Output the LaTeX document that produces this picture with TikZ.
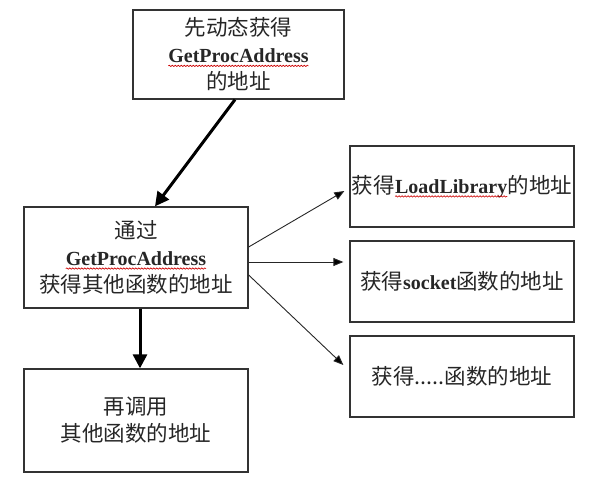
\documentclass[tikz,border=0pt]{standalone}
\usepackage{fontspec}
\newfontfamily\cjk{Noto Sans CJK SC}
\newfontfamily\lat{Liberation Serif}
\usetikzlibrary{arrows.meta,calc,decorations.pathmorphing}
\newcommand\latw[1]{{\lat\bfseries\fontsize{20}{27}\selectfont\tikz[baseline=(w.base)]{\node[draw=none,inner sep=0pt,outer sep=0pt,minimum width=0pt,minimum height=0pt,text=black!85](w){#1};\draw[red!80!black,line width=0.6pt,decorate,decoration={snake,amplitude=0.7pt,segment length=3pt}]([yshift=-3pt]w.base west)--([yshift=-3pt]w.base east);}}}
\begin{document}
\begin{tikzpicture}[x=1pt,y=-1pt,
  box/.style={draw=black!80,line width=1.3pt,inner sep=0pt,align=center,text=black!85,
    font=\cjk\fontsize{21.5}{27}\selectfont},
  thick arrow/.style={line width=3pt,draw=black,-{Triangle[length=14pt,width=14pt]}},
  thin arrow/.style={line width=0.9pt,draw=black!85,-{Triangle[length=10pt,width=8pt]}}]
\useasboundingbox (0,0) rectangle (592,478);
\node[box,minimum width=211pt,minimum height=89pt] (top) at (238.5,54.5)
  {先动态获得\\\latw{GetProcAddress}\\的地址};
\node[box,minimum width=224pt,minimum height=101pt] (mid) at (136,257.5)
  {通过\\\latw{GetProcAddress}\\获得其他函数的地址};
\node[box,minimum width=224pt,minimum height=103pt] (bot) at (136,420.5)
  {再调用\\其他函数的地址};
\node[box,minimum width=224pt,minimum height=81pt] (r1) at (462,186.5)
  {获得\latw{LoadLibrary}的地址};
\node[box,minimum width=224pt,minimum height=81pt] (r2) at (462,281.5)
  {获得{\lat\bfseries\fontsize{20}{27}\selectfont socket}函数的地址};
\node[box,minimum width=224pt,minimum height=81pt] (r3) at (462,376.5)
  {获得.....函数的地址};
\draw[thick arrow] ($(top.south)+(-3.5,0)$) -- ($(mid.north)+(19,0)$);
\draw[thick arrow] ($(mid.south)+(4,0)$) -- ($(bot.north)+(4,0)$);
\draw[thin arrow] ($(mid.east)+(0,-10.5)$) -- ($(r1.west)+(-5,4.5)$);
\draw[thin arrow] ($(mid.east)+(0,4.5)$) -- ($(r2.west)+(-6,-19.5)$);
\draw[thin arrow] ($(mid.east)+(0,17.5)$) -- ($(r3.west)+(-6,-11.5)$);
\end{tikzpicture}
\end{document}
